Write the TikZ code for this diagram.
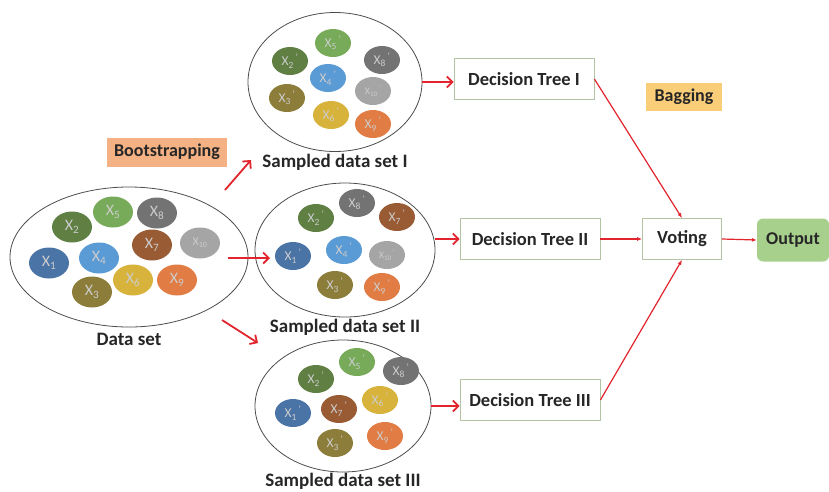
\documentclass[tikz,border=0pt]{standalone}
\usepackage{fontspec}
\setmainfont{Carlito}
\usepackage{xcolor}
\usepackage{tikz}
\usetikzlibrary{positioning,shapes.geometric,arrows.meta}

\definecolor{arrowred}{RGB}{226,36,44}
\definecolor{boxline}{RGB}{178,196,164}
\definecolor{cblue}{RGB}{75,116,166}
\definecolor{cltblue}{RGB}{91,155,213}
\definecolor{cdkgreen}{RGB}{95,127,67}
\definecolor{cgreen}{RGB}{119,171,90}
\definecolor{cgray}{RGB}{115,115,115}
\definecolor{cltgray}{RGB}{165,165,165}
\definecolor{cbrown}{RGB}{152,91,52}
\definecolor{colive}{RGB}{141,125,58}
\definecolor{cgold}{RGB}{216,179,60}
\definecolor{corange}{RGB}{225,124,68}
\definecolor{bootfill}{RGB}{244,177,131}
\definecolor{bagfill}{RGB}{250,205,120}
\definecolor{outfill}{RGB}{168,208,141}

\newcommand{\xd}[1]{X\textsubscript{#1}}
\newcommand{\xs}[1]{X\textsubscript{#1}\textsuperscript{\,'}}

\begin{document}
\begin{tikzpicture}[x=1pt,y=-1pt,
bigset/.style={ellipse,draw=black!70,thick,inner sep=0pt},
item/.style={ellipse,inner sep=0pt,minimum width=40pt,minimum height=31pt,text=white!80!black,font=\fontsize{16}{16}\selectfont},
sitem/.style={item,minimum width=36pt,minimum height=28pt,font=\fontsize{13.5}{13.5}\selectfont},
caption/.style={inner sep=1pt,text=black!85,font=\bfseries\fontsize{19}{22}\selectfont},
treebox/.style={rectangle,draw=boxline,thick,fill=white,minimum width=140pt,minimum height=41pt,text=black!85,font=\bfseries\fontsize{18.5}{22}\selectfont},
tag/.style={rectangle,inner sep=0pt,minimum height=28pt,text=black!85,font=\bfseries\fontsize{18}{22}\selectfont},
paths/.style={arrowred,line width=1.8pt,-{Straight Barb[length=5.5pt,width=11pt]}},
votepath/.style={arrowred,line width=1.2pt,-{Latex[length=5pt,width=4pt]}}
]
\useasboundingbox (0,0) rectangle (829,491);

%create nodes
\node[bigset,minimum width=238pt,minimum height=140pt] (ds) at (129,257) {};
\node[bigset,minimum width=174pt,minimum height=139pt] (s1) at (335,82) {};
\node[bigset,minimum width=180pt,minimum height=134pt] (s2) at (345,250) {};
\node[bigset,minimum width=176pt,minimum height=132pt] (s3) at (343,406) {};

\node[caption, below=5pt of ds] (dsl) {Data set};
\node[caption, below=1pt of s1] (s1l) {Sampled data set I};
\node[caption, below=1pt of s2] (s2l) {Sampled data set II};
\node[caption, below=0pt of s3] (s3l) {Sampled data set III};

%data set items
\node[item,fill=cdkgreen] (d2) at (72,227) {\xd{2}};
\node[item,fill=cgreen] (d5) at (113,212) {\xd{5}};
\node[item,fill=cgray] (d8) at (157,213) {\xd{8}};
\node[item,fill=cblue] (d1) at (49,263) {\xd{1}};
\node[item,fill=cltblue] (d4) at (99,258) {\xd{4}};
\node[item,fill=cbrown] (d7) at (152,245) {\xd{7}};
\node[item,fill=cltgray,font=\fontsize{12}{12}\selectfont] (d10) at (200,243) {\xd{10}};
\node[item,fill=colive] (d3) at (92,292) {\xd{3}};
\node[item,fill=cgold] (d6) at (133,280) {\xd{6}};
\node[item,fill=corange] (d9) at (177,280) {\xd{9}};

%sampled data set I items
\node[sitem,fill=cdkgreen] (a2) at (290,61) {\xs{2}};
\node[sitem,fill=cgreen] (a5) at (333,43) {\xs{5}};
\node[sitem,fill=cgray] (a8) at (382,60) {\xs{8}};
\node[sitem,fill=cltblue] (a4) at (328,78) {\xs{4}};
\node[sitem,fill=colive] (a3) at (287,98) {\xs{3}};
\node[sitem,fill=cltgray,font=\fontsize{10}{10}\selectfont] (a10) at (373,91) {\xs{10}};
\node[sitem,fill=cgold] (a6) at (331,115) {\xs{6}};
\node[sitem,fill=corange] (a9) at (373,124) {\xs{9}};

%sampled data set II items
\node[sitem,fill=cdkgreen] (b2) at (316,218) {\xs{2}};
\node[sitem,fill=cgray] (b8) at (357,203) {\xs{8}};
\node[sitem,fill=cbrown] (b7) at (397,217) {\xs{7}};
\node[sitem,fill=cblue] (b1) at (293,256) {\xs{1}};
\node[sitem,fill=cltblue] (b4) at (344,250) {\xs{4}};
\node[sitem,fill=cltgray,font=\fontsize{10}{10}\selectfont] (b10) at (387,255) {\xs{10}};
\node[sitem,fill=colive] (b3) at (335,285) {\xs{3}};
\node[sitem,fill=corange] (b9) at (382,287) {\xs{9}};

%sampled data set III items
\node[sitem,fill=cdkgreen] (c2) at (316,379) {\xs{2}};
\node[sitem,fill=cgreen] (c5) at (357,362) {\xs{5}};
\node[sitem,fill=cgray] (c8) at (401,371) {\xs{8}};
\node[sitem,fill=cblue] (c1) at (293,413) {\xs{1}};
\node[sitem,fill=cbrown] (c7) at (339,409) {\xs{7}};
\node[sitem,fill=cgold] (c6) at (380,400) {\xs{6}};
\node[sitem,fill=colive] (c3) at (335,443) {\xs{3}};
\node[sitem,fill=corange] (c9) at (385,436) {\xs{9}};

%trees and voting
\node[treebox] (dt1) at (524,79) {Decision Tree I};
\node[treebox] (dt2) at (530,239) {Decision Tree II};
\node[treebox] (dt3) at (530,400) {Decision Tree III};
\node[treebox,minimum width=79pt] (vote) at (682,239) {Voting};
\node[tag,fill=outfill,rounded corners=6pt,minimum width=72pt,minimum height=43pt] (out) at (793,240) {Output};

\node[tag,fill=bootfill,minimum width=120pt,minimum height=29pt] (boot) at (167,152) {Bootstrapping};
\node[tag,fill=bagfill,minimum width=76pt] (bag) at (684,97) {Bagging};

\coordinate (b1s) at (225,190);
\coordinate (b1e) at (251,160);
\coordinate (b2s) at (228,258);
\coordinate (b2e) at (270,258);
\coordinate (b3s) at (222,320);
\coordinate (b3e) at (258,343);

%draw paths
\draw[paths] (b1s) -- (b1e);
\draw[paths] (b2s) -- (b2e);
\draw[paths] (b3s) -- (b3e);

\draw[paths] (s1.east) -- (s1.east -| dt1.west);
\draw[paths] (s2.east |- dt2.west) -- (dt2.west);
\draw[paths] (s3.east) -- (s3.east -| dt3.west);

\draw[votepath] (dt1.east) -- (vote.north);
\draw[votepath] (dt2.east) -- (vote.west);
\draw[votepath] (dt3.east) -- (vote.south);
\draw[votepath] (vote.east) -- (out.west);

\end{tikzpicture}
\end{document}
